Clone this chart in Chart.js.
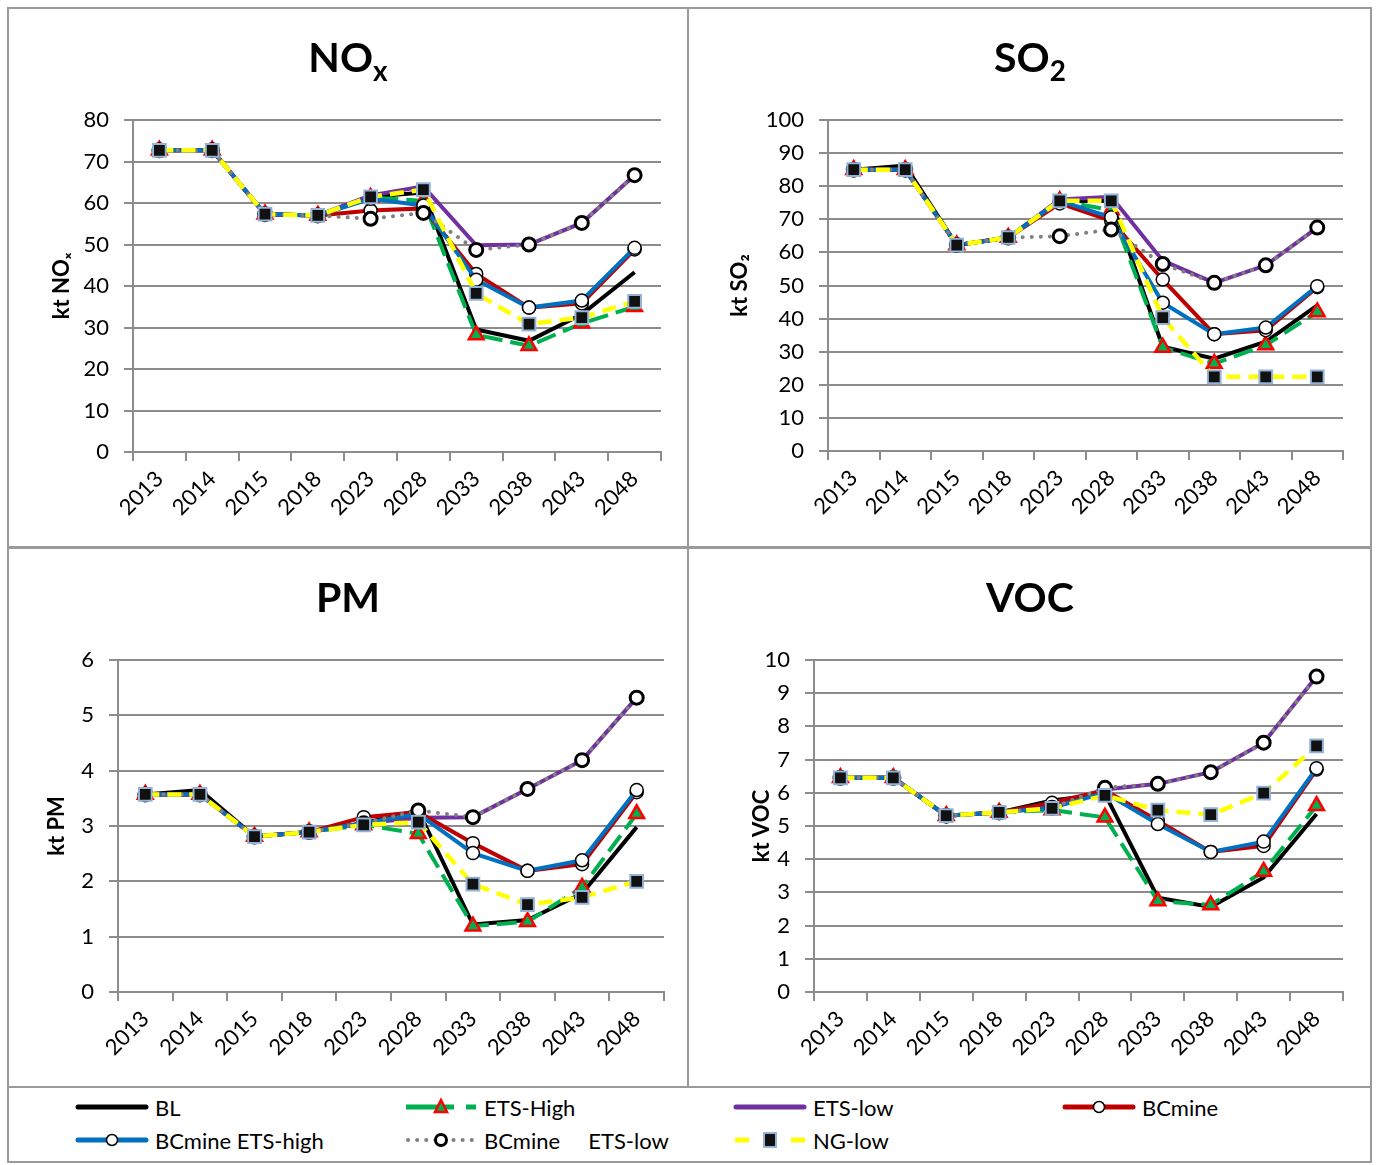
<!DOCTYPE html>
<html lang="en">
<head>
  <meta charset="UTF-8">
  <title>NOx, SO2, PM, VOC scenarios</title>
  <style>
    body { margin: 0; background: #fff; font-family: Lato, 'Liberation Sans', sans-serif; color: #000; }
    #page { position: relative; width: 1376px; height: 1165px; overflow: hidden; }
    .rule { position: absolute; background: #9a9a9a; }
    .panel { position: absolute; }
    .panel canvas { position: absolute; left: 0; top: 0; }
    .title { position: absolute; left: 0; right: 0; top: 28px; text-align: center;
             font-weight: bold; font-size: 41px; line-height: 41px; }
    .title sub { font-size: 0.68em; vertical-align: -0.32em; line-height: 0; }
    .leg { position: absolute; height: 30px; display: flex; align-items: center;
           font-size: 22px; white-space: pre; }
    .leg svg { margin-right: 6px; }
  </style>
</head>
<body>
<div id="page">
  <div class="rule" style="left:7px;top:7px;width:1365px;height:2px"></div>
  <div class="rule" style="left:7px;top:1161px;width:1365px;height:2px"></div>
  <div class="rule" style="left:7px;top:7px;width:2px;height:1156px"></div>
  <div class="rule" style="left:1370px;top:7px;width:2px;height:1156px"></div>
  <div class="rule" style="left:687px;top:8px;width:2px;height:1079px"></div>
  <div class="rule" style="left:8px;top:546px;width:1363px;height:3px"></div>
  <div class="rule" style="left:8px;top:1086px;width:1363px;height:2px"></div>

  <div class="panel" style="left:8px;top:8px;width:680px;height:540px">
    <canvas id="c-nox" width="680" height="540"></canvas>
    <div class="title">NO<sub>x</sub></div>
  </div>
  <div class="panel" style="left:688px;top:8px;width:684px;height:540px">
    <canvas id="c-so2" width="684" height="540"></canvas>
    <div class="title">SO<sub>2</sub></div>
  </div>
  <div class="panel" style="left:8px;top:548px;width:680px;height:539px">
    <canvas id="c-pm" width="680" height="539"></canvas>
    <div class="title">PM</div>
  </div>
  <div class="panel" style="left:688px;top:548px;width:684px;height:539px">
    <canvas id="c-voc" width="684" height="539"></canvas>
    <div class="title">VOC</div>
  </div>

  <div class="leg" style="left:75px;top:1092px">
    <svg width="74" height="20"><line x1="3" y1="10" x2="71" y2="10" stroke="#000" stroke-width="5" stroke-linecap="round"/></svg>BL</div>
  <div class="leg" style="left:404px;top:1092px">
    <svg width="74" height="20"><line x1="2" y1="10" x2="50" y2="10" stroke="#00B050" stroke-width="5"/><line x1="62" y1="10" x2="72" y2="10" stroke="#00B050" stroke-width="5"/><polygon points="37,3 43,15 31,15" fill="#00B050" stroke="#FF0000" stroke-width="2.5"/></svg>ETS-High</div>
  <div class="leg" style="left:733px;top:1092px">
    <svg width="74" height="20"><line x1="3" y1="10" x2="71" y2="10" stroke="#7030A0" stroke-width="5" stroke-linecap="round"/></svg>ETS-low</div>
  <div class="leg" style="left:1062px;top:1092px">
    <svg width="74" height="20"><line x1="3" y1="10" x2="71" y2="10" stroke="#C00000" stroke-width="5" stroke-linecap="round"/><circle cx="37" cy="10" r="5.5" fill="#fff" stroke="#000" stroke-width="1.5"/></svg>BCmine</div>
  <div class="leg" style="left:75px;top:1125px">
    <svg width="74" height="20"><line x1="3" y1="10" x2="71" y2="10" stroke="#0070C0" stroke-width="5" stroke-linecap="round"/><circle cx="37" cy="10" r="5.5" fill="#fff" stroke="#000" stroke-width="1.5"/></svg>BCmine ETS-high</div>
  <div class="leg" style="left:404px;top:1125px">
    <svg width="74" height="20"><line x1="4" y1="10" x2="72" y2="10" stroke="#808080" stroke-width="4" stroke-linecap="round" stroke-dasharray="0.1 9"/><circle cx="37" cy="10" r="5.5" fill="#fff" stroke="#000" stroke-width="3"/></svg>BCmine     ETS-low</div>
  <div class="leg" style="left:733px;top:1125px">
    <svg width="74" height="20"><line x1="2" y1="10" x2="16" y2="10" stroke="#FFFF00" stroke-width="5"/><line x1="58" y1="10" x2="72" y2="10" stroke="#FFFF00" stroke-width="5"/><rect x="31" y="3" width="12" height="14" fill="#111" stroke="#95B3D7" stroke-width="2"/></svg>NG-low</div>
</div>

<script src="https://cdn.jsdelivr.net/npm/chart.js"></script>
<script>
  const years = ['2013', '2014', '2015', '2018', '2023', '2028', '2033', '2038', '2043', '2048'];
  const seriesNames = ['BL', 'ETS-High', 'ETS-low', 'BCmine', 'BCmine ETS-high', 'BCmine ETS-low', 'NG-low'];

  // NOx, kt
  const noxBL         = [72.7, 72.7, 57.3, 57.0, 61.5, 62.5, 29.5, 26.8, 33.2, 43.3];
  const noxEtsHigh    = [72.7, 72.7, 57.3, 57.0, 61.3, 60.5, 28.2, 25.6, 31.0, 35.0];
  const noxEtsLow     = [72.7, 72.7, 57.3, 57.0, 61.8, 64.0, 49.8, 50.0, 55.2, 66.7];
  const noxBC         = [72.7, 72.7, 57.3, 57.0, 58.2, 58.7, 42.9, 34.8, 35.8, 48.8];
  const noxBCEtsHigh  = [72.7, 72.7, 57.3, 57.0, 61.0, 59.4, 41.5, 34.8, 36.5, 49.2];
  const noxBCEtsLow   = [72.7, 72.7, 57.3, 57.0, 56.2, 57.6, 48.7, 50.0, 55.2, 66.7];
  const noxNGLow      = [72.7, 72.7, 57.3, 57.0, 61.5, 63.2, 38.2, 30.8, 32.4, 36.3];

  // SO2, kt
  const so2BL         = [85.0, 86.2, 62.2, 64.5, 75.6, 75.5, 31.5, 27.9, 33.0, 44.0];
  const so2EtsHigh    = [85.0, 85.0, 62.2, 64.5, 75.6, 72.8, 31.3, 26.4, 32.0, 42.0];
  const so2EtsLow     = [85.0, 85.0, 62.2, 64.5, 76.0, 76.8, 57.5, 50.8, 56.1, 67.5];
  const so2BC         = [85.0, 85.0, 62.2, 64.5, 74.8, 69.5, 51.8, 35.3, 36.5, 49.5];
  const so2BCEtsHigh  = [85.0, 85.0, 62.2, 64.5, 75.6, 70.6, 44.8, 35.3, 37.3, 49.8];
  const so2BCEtsLow   = [85.0, 85.0, 62.2, 64.5, 64.9, 66.9, 56.5, 50.8, 56.1, 67.5];
  const so2NGLow      = [85.0, 85.0, 62.2, 64.5, 75.6, 75.6, 40.3, 22.4, 22.4, 22.4];

  // PM, kt
  const pmBL          = [3.57, 3.65, 2.81, 2.89, 3.05, 3.28, 1.22, 1.30, 1.78, 2.98];
  const pmEtsHigh     = [3.57, 3.57, 2.81, 2.89, 3.02, 2.86, 1.19, 1.27, 1.89, 3.22];
  const pmEtsLow      = [3.57, 3.57, 2.81, 2.89, 3.05, 3.15, 3.16, 3.67, 4.19, 5.32];
  const pmBC          = [3.57, 3.57, 2.81, 2.89, 3.16, 3.25, 2.69, 2.19, 2.31, 3.61];
  const pmBCEtsHigh   = [3.57, 3.57, 2.81, 2.89, 3.05, 3.22, 2.51, 2.19, 2.38, 3.65];
  const pmBCEtsLow    = [3.57, 3.57, 2.81, 2.89, 3.05, 3.28, 3.16, 3.67, 4.19, 5.32];
  const pmNGLow       = [3.57, 3.57, 2.81, 2.89, 3.02, 3.07, 1.95, 1.58, 1.71, 2.00];

  // VOC, kt
  const vocBL         = [6.45, 6.45, 5.31, 5.41, 5.77, 5.97, 2.84, 2.56, 3.45, 5.36];
  const vocEtsHigh    = [6.45, 6.45, 5.31, 5.41, 5.48, 5.26, 2.74, 2.62, 3.63, 5.61];
  const vocEtsLow     = [6.45, 6.45, 5.31, 5.41, 5.60, 6.10, 6.27, 6.62, 7.51, 9.50];
  const vocBC         = [6.45, 6.45, 5.31, 5.41, 5.70, 6.07, 5.16, 4.22, 4.40, 6.70];
  const vocBCEtsHigh  = [6.45, 6.45, 5.31, 5.41, 5.55, 6.00, 5.06, 4.22, 4.53, 6.74];
  const vocBCEtsLow   = [6.45, 6.45, 5.31, 5.41, 5.55, 6.15, 6.27, 6.62, 7.51, 9.50];
  const vocNGLow      = [6.45, 6.45, 5.31, 5.41, 5.53, 5.92, 5.48, 5.34, 5.99, 7.41];

  // line / marker look per series (same order as seriesNames)
  const styles = [
    { borderColor: '#000000', borderWidth: 4, pointRadius: 0 },
    { borderColor: '#00B050', borderWidth: 4, borderDash: [20, 8], pointStyle: 'triangle', pointRadius: 8.5,
      pointBackgroundColor: '#00B050', pointBorderColor: '#FF0000', pointBorderWidth: 2.5 },
    { borderColor: '#7030A0', borderWidth: 4, pointRadius: 0 },
    { borderColor: '#C00000', borderWidth: 4, pointStyle: 'circle', pointRadius: 6.5,
      pointBackgroundColor: '#FFFFFF', pointBorderColor: '#000000', pointBorderWidth: 1.5 },
    { borderColor: '#0070C0', borderWidth: 4, pointStyle: 'circle', pointRadius: 6.5,
      pointBackgroundColor: '#FFFFFF', pointBorderColor: '#000000', pointBorderWidth: 1.5 },
    { borderColor: '#808080', borderWidth: 4, borderDash: [0.1, 9], borderCapStyle: 'round', pointStyle: 'circle',
      pointRadius: 6.5, pointBackgroundColor: '#FFFFFF', pointBorderColor: '#000000', pointBorderWidth: 3 },
    { borderColor: '#FFFF00', borderWidth: 4.5, borderDash: [14, 8], pointStyle: 'rect', pointRadius: 9,
      pointBackgroundColor: '#111111', pointBorderColor: '#95B3D7', pointBorderWidth: 2 }
  ];

  const GRID = '#8c8c8c';

  function makeChart(id, series, yMax, yStep, yTitle, box) {
    const datasets = series.map((values, i) => Object.assign({
      label: seriesNames[i],
      data: values,
      fill: false,
      tension: 0,
      order: series.length - 1 - i   // later series drawn on top, as in the original
    }, styles[i]));

    new Chart(document.getElementById(id), {
      type: 'line',
      data: { labels: years, datasets: datasets },
      options: {
        responsive: false,
        animation: false,
        layout: { padding: { top: box.top, right: box.right, left: 0, bottom: 0 } },
        plugins: { legend: { display: false }, tooltip: { enabled: false } },
        scales: {
          x: {
            type: 'category',
            offset: true,
            grid: { offset: true, drawOnChartArea: false, color: GRID, lineWidth: 2, tickLength: 9 },
            border: { color: GRID, width: 2 },
            ticks: { color: '#000', font: { size: 22, family: 'Lato' }, minRotation: 45, maxRotation: 45,
                     autoSkip: false, padding: 5 },
            afterFit: s => { s.height = box.xh; }
          },
          y: {
            min: 0,
            max: yMax,
            grid: { color: GRID, lineWidth: 2, tickLength: 9 },
            border: { color: GRID, width: 2 },
            ticks: { stepSize: yStep, color: '#000', font: { size: 22, family: 'Lato' }, padding: 15 },
            title: { display: true, text: yTitle, color: '#000', font: { size: 22, weight: 'bold', family: 'Lato' },
                     padding: { top: box.tp, bottom: 0 } },
            afterFit: s => { s.width = box.yw; }
          }
        }
      }
    });
  }

  makeChart('c-nox', [noxBL, noxEtsHigh, noxEtsLow, noxBC, noxBCEtsHigh, noxBCEtsLow, noxNGLow],
            80, 10, 'kt NOₓ', { top: 112, right: 27, xh: 96, yw: 125, tp: 41 });
  makeChart('c-so2', [so2BL, so2EtsHigh, so2EtsLow, so2BC, so2BCEtsHigh, so2BCEtsLow, so2NGLow],
            100, 10, 'kt SO₂', { top: 112, right: 29, xh: 97, yw: 140, tp: 39 });
  makeChart('c-pm', [pmBL, pmEtsHigh, pmEtsLow, pmBC, pmBCEtsHigh, pmBCEtsLow, pmNGLow],
            6, 1, 'kt PM', { top: 112, right: 24, xh: 95, yw: 110, tp: 36 });
  makeChart('c-voc', [vocBL, vocEtsHigh, vocEtsLow, vocBC, vocBCEtsHigh, vocBCEtsLow, vocNGLow],
            10, 1, 'kt VOC', { top: 112, right: 29, xh: 95, yw: 126, tp: 61 });
</script>
</body>
</html>
